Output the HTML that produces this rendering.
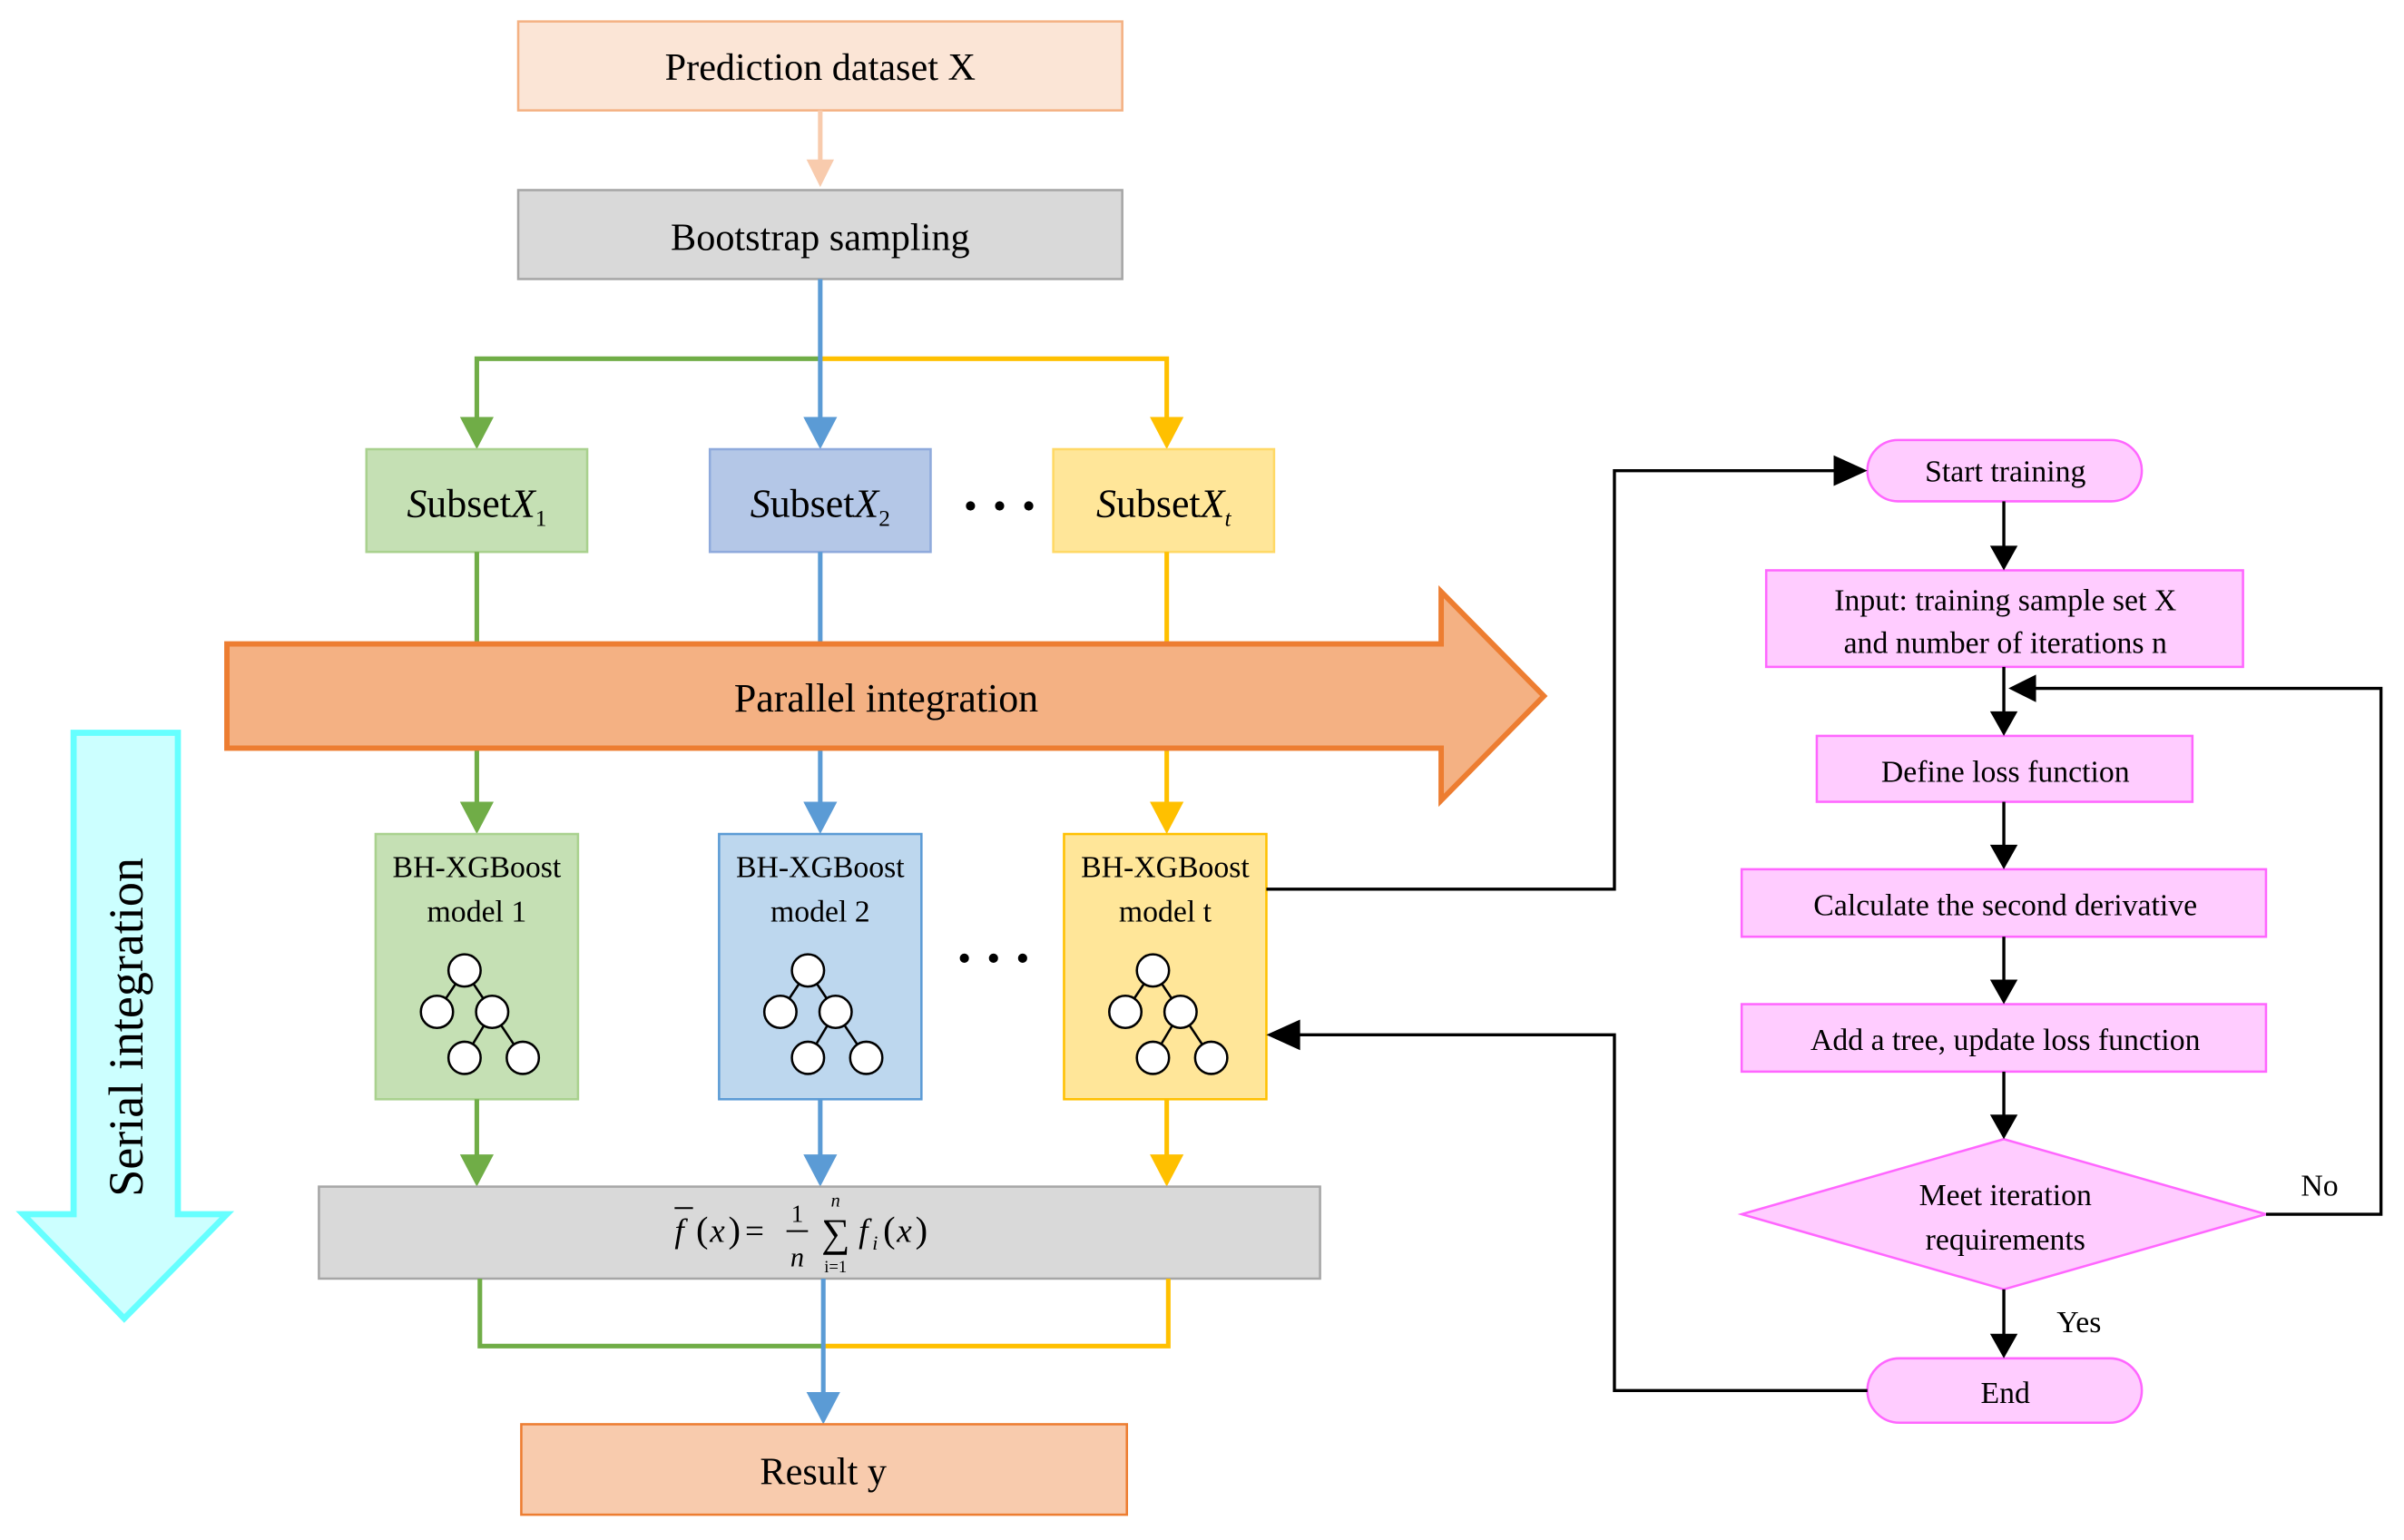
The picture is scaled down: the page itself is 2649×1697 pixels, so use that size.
<!DOCTYPE html>
<html><head><meta charset="utf-8"><style>
html,body{margin:0;padding:0;background:#fff;}
svg{display:block;}
text{font-family:"Liberation Serif",serif;fill:#000;}
</style></head><body>
<svg width="2649" height="1697" viewBox="0 0 1568 1004.5" xmlns="http://www.w3.org/2000/svg">
<defs>
<marker id="aO" markerWidth="10" markerHeight="10" refX="9" refY="5" orient="auto" markerUnits="userSpaceOnUse"><path d="M0,0 L10,5 L0,10z" fill="#f8cbad"/></marker>
</defs>
<!-- top -->
<rect x="338" y="14" width="394" height="58" fill="#fbe5d6" stroke="#f4b183" stroke-width="1.5"/>
<text x="535" y="52" font-size="25" text-anchor="middle">Prediction dataset X</text>
<line x1="535" y1="72" x2="535" y2="110" stroke="#f8cbad" stroke-width="3"/>
<path d="M526,104 L544,104 L535,122z" fill="#f8cbad"/>
<rect x="338" y="124" width="394" height="58" fill="#d9d9d9" stroke="#a6a6a6" stroke-width="1.5"/>
<text x="535" y="163" font-size="25" text-anchor="middle">Bootstrap sampling</text>
<!-- branches -->
<polyline points="535,234 311,234 311,276" fill="none" stroke="#70ad47" stroke-width="3"/>
<path d="M300,272 L322,272 L311,293z" fill="#70ad47"/>
<polyline points="535,234 761,234 761,276" fill="none" stroke="#ffc000" stroke-width="3"/>
<path d="M750,272 L772,272 L761,293z" fill="#ffc000"/>
<line x1="535" y1="182" x2="535" y2="276" stroke="#5b9bd5" stroke-width="3"/>
<path d="M524,272 L546,272 L535,293z" fill="#5b9bd5"/>
<rect x="239" y="293" width="144" height="67" fill="#c5e0b4" stroke="#a9d18e" stroke-width="1.5"/>
<rect x="463" y="293" width="144" height="67" fill="#b4c7e7" stroke="#8faadc" stroke-width="1.5"/>
<rect x="687" y="293" width="144" height="67" fill="#ffe699" stroke="#ffd966" stroke-width="1.5"/>
<text x="311" y="337" font-size="26" text-anchor="middle"><tspan font-style="italic">S</tspan>ubset<tspan font-style="italic">X</tspan><tspan font-size="15" dy="6">1</tspan></text>
<text x="535" y="337" font-size="26" text-anchor="middle"><tspan font-style="italic">S</tspan>ubset<tspan font-style="italic">X</tspan><tspan font-size="15" dy="6">2</tspan></text>
<text x="759" y="337" font-size="26" text-anchor="middle"><tspan font-style="italic">S</tspan>ubset<tspan font-style="italic">X</tspan><tspan font-size="15" dy="6" font-style="italic">t</tspan></text>
<g fill="#000"><circle cx="633" cy="330" r="3"/><circle cx="652" cy="330" r="3"/><circle cx="671" cy="330" r="3"/></g>
<line x1="311" y1="360" x2="311" y2="527" stroke="#70ad47" stroke-width="3"/>
<line x1="535" y1="360" x2="535" y2="527" stroke="#5b9bd5" stroke-width="3"/>
<line x1="761" y1="360" x2="761" y2="527" stroke="#ffc000" stroke-width="3"/>
<path d="M300,523 L322,523 L311,544z" fill="#70ad47"/>
<path d="M524,523 L546,523 L535,544z" fill="#5b9bd5"/>
<path d="M750,523 L772,523 L761,544z" fill="#ffc000"/>
<!-- parallel arrow -->
<path d="M148,420 L940,420 L940,386 L1007,454 L940,522 L940,488 L148,488z" fill="#f4b183" stroke="#ed7d31" stroke-width="3.5"/>
<text x="578" y="464" font-size="26" text-anchor="middle">Parallel integration</text>
<!-- models -->
<g>
<rect x="245" y="544" width="132" height="173" fill="#c5e0b4" stroke="#a9d18e" stroke-width="1.5"/>
<rect x="469" y="544" width="132" height="173" fill="#bdd7ee" stroke="#5b9bd5" stroke-width="1.5"/>
<rect x="694" y="544" width="132" height="173" fill="#ffe699" stroke="#ffc000" stroke-width="1.5"/>
<text x="311" y="572" font-size="20" text-anchor="middle">BH-XGBoost</text>
<text x="311" y="601" font-size="20" text-anchor="middle">model 1</text>
<text x="535" y="572" font-size="20" text-anchor="middle">BH-XGBoost</text>
<text x="535" y="601" font-size="20" text-anchor="middle">model 2</text>
<text x="760" y="572" font-size="20" text-anchor="middle">BH-XGBoost</text>
<text x="760" y="601" font-size="20" text-anchor="middle">model t</text>
</g>
<g id="tree" stroke="#000" stroke-width="1.5" fill="#fff">
<line x1="303" y1="633" x2="285" y2="660"/><line x1="303" y1="633" x2="321" y2="660"/>
<line x1="321" y1="660" x2="303" y2="690"/><line x1="321" y1="660" x2="341" y2="690"/>
<circle cx="303" cy="633" r="10.5"/><circle cx="285" cy="660" r="10.5"/><circle cx="321" cy="660" r="10.5"/><circle cx="303" cy="690" r="10.5"/><circle cx="341" cy="690" r="10.5"/>
</g>
<use href="#tree" x="224"/>
<use href="#tree" x="449"/>
<g fill="#000"><circle cx="629" cy="625" r="3"/><circle cx="648" cy="625" r="3"/><circle cx="667" cy="625" r="3"/></g>
<line x1="311" y1="717" x2="311" y2="758" stroke="#70ad47" stroke-width="3"/>
<line x1="535" y1="717" x2="535" y2="758" stroke="#5b9bd5" stroke-width="3"/>
<line x1="761" y1="717" x2="761" y2="758" stroke="#ffc000" stroke-width="3"/>
<path d="M300,753 L322,753 L311,774z" fill="#70ad47"/>
<path d="M524,753 L546,753 L535,774z" fill="#5b9bd5"/>
<path d="M750,753 L772,753 L761,774z" fill="#ffc000"/>
<!-- formula -->
<rect x="208" y="774" width="653" height="60" fill="#d9d9d9" stroke="#a6a6a6" stroke-width="1.5"/>
<text x="440" y="810" font-size="22" font-style="italic">f</text>
<line x1="440" y1="788" x2="452" y2="788" stroke="#000" stroke-width="1.2"/>
<text x="454" y="810" font-size="24">(</text><text x="463" y="810" font-size="22" font-style="italic">x</text><text x="475" y="810" font-size="24">)</text>
<text x="486" y="810" font-size="22">=</text>
<text x="520" y="797" font-size="16" text-anchor="middle">1</text>
<line x1="513" y1="803" x2="527" y2="803" stroke="#000" stroke-width="1.2"/>
<text x="520" y="826" font-size="18" font-style="italic" text-anchor="middle">n</text>
<text x="545" y="813" font-size="26" text-anchor="middle">∑</text>
<text x="545" y="787" font-size="12" font-style="italic" text-anchor="middle">n</text>
<text x="545" y="830" font-size="11" text-anchor="middle">i=1</text>
<text x="560" y="810" font-size="22" font-style="italic">f</text><text x="569" y="815" font-size="13" font-style="italic">i</text>
<text x="576" y="810" font-size="24">(</text><text x="585" y="810" font-size="22" font-style="italic">x</text><text x="597" y="810" font-size="24">)</text>
<!-- merge -->
<polyline points="313,834 313,878 537,878" fill="none" stroke="#70ad47" stroke-width="3"/>
<polyline points="762,834 762,878 537,878" fill="none" stroke="#ffc000" stroke-width="3"/>
<line x1="537" y1="834" x2="537" y2="912" stroke="#5b9bd5" stroke-width="3"/>
<path d="M526,908 L548,908 L537,929z" fill="#5b9bd5"/>
<rect x="340" y="929" width="395" height="59" fill="#f8cbad" stroke="#ed7d31" stroke-width="1.5"/>
<text x="537" y="968" font-size="25" text-anchor="middle">Result y</text>
<!-- serial arrow -->
<path d="M48,478 L116,478 L116,792 L148,792 L81,860 L15,792 L48,792z" fill="#ccffff" stroke="#66ffff" stroke-width="4"/>
<text transform="translate(93,670) rotate(-90)" font-size="32" text-anchor="middle">Serial integration</text>
<!-- right flowchart -->
<g fill="#ffccff" stroke="#ff66ff" stroke-width="1.5">
<rect x="1218" y="287" width="179" height="40" rx="20"/>
<rect x="1152" y="372" width="311" height="63"/>
<rect x="1185" y="480" width="245" height="43"/>
<rect x="1136" y="567" width="342" height="44"/>
<rect x="1136" y="655" width="342" height="44"/>
<path d="M1307,743 L1478,792 L1307,841 L1136,792z"/>
<rect x="1218" y="886" width="179" height="42" rx="21"/>
</g>
<g font-size="20" text-anchor="middle">
<text x="1308" y="314">Start training</text>
<text x="1308" y="398">Input: training sample set X</text>
<text x="1308" y="426">and number of iterations n</text>
<text x="1308" y="510">Define loss function</text>
<text x="1308" y="597">Calculate the second derivative</text>
<text x="1308" y="685">Add a tree, update loss function</text>
<text x="1308" y="786">Meet iteration</text>
<text x="1308" y="815">requirements</text>
<text x="1308" y="915">End</text>
<text x="1356" y="869">Yes</text>
<text x="1513" y="780">No</text>
</g>
<g stroke="#000" stroke-width="2" fill="none">
<line x1="1307" y1="327" x2="1307" y2="358"/>
<line x1="1307" y1="435" x2="1307" y2="466"/>
<line x1="1307" y1="523" x2="1307" y2="553"/>
<line x1="1307" y1="611" x2="1307" y2="641"/>
<line x1="1307" y1="699" x2="1307" y2="729"/>
<line x1="1307" y1="841" x2="1307" y2="872"/>
<polyline points="1478,792 1553,792 1553,449 1324,449"/>
<polyline points="826,580 1053,580 1053,307 1200,307"/>
<polyline points="1218,907 1053,907 1053,675 846,675"/>
</g>
<g fill="#000">
<path d="M1298,356 L1316,356 L1307,372z"/>
<path d="M1298,464 L1316,464 L1307,480z"/>
<path d="M1298,551 L1316,551 L1307,567z"/>
<path d="M1298,639 L1316,639 L1307,655z"/>
<path d="M1298,727 L1316,727 L1307,743z"/>
<path d="M1298,870 L1316,870 L1307,886z"/>
<path d="M1328,440 L1328,458 L1310,449z"/>
<path d="M1196,297 L1196,317 L1218,307z"/>
<path d="M848,665 L848,685 L826,675z"/>
</g>
</svg>
</body></html>
